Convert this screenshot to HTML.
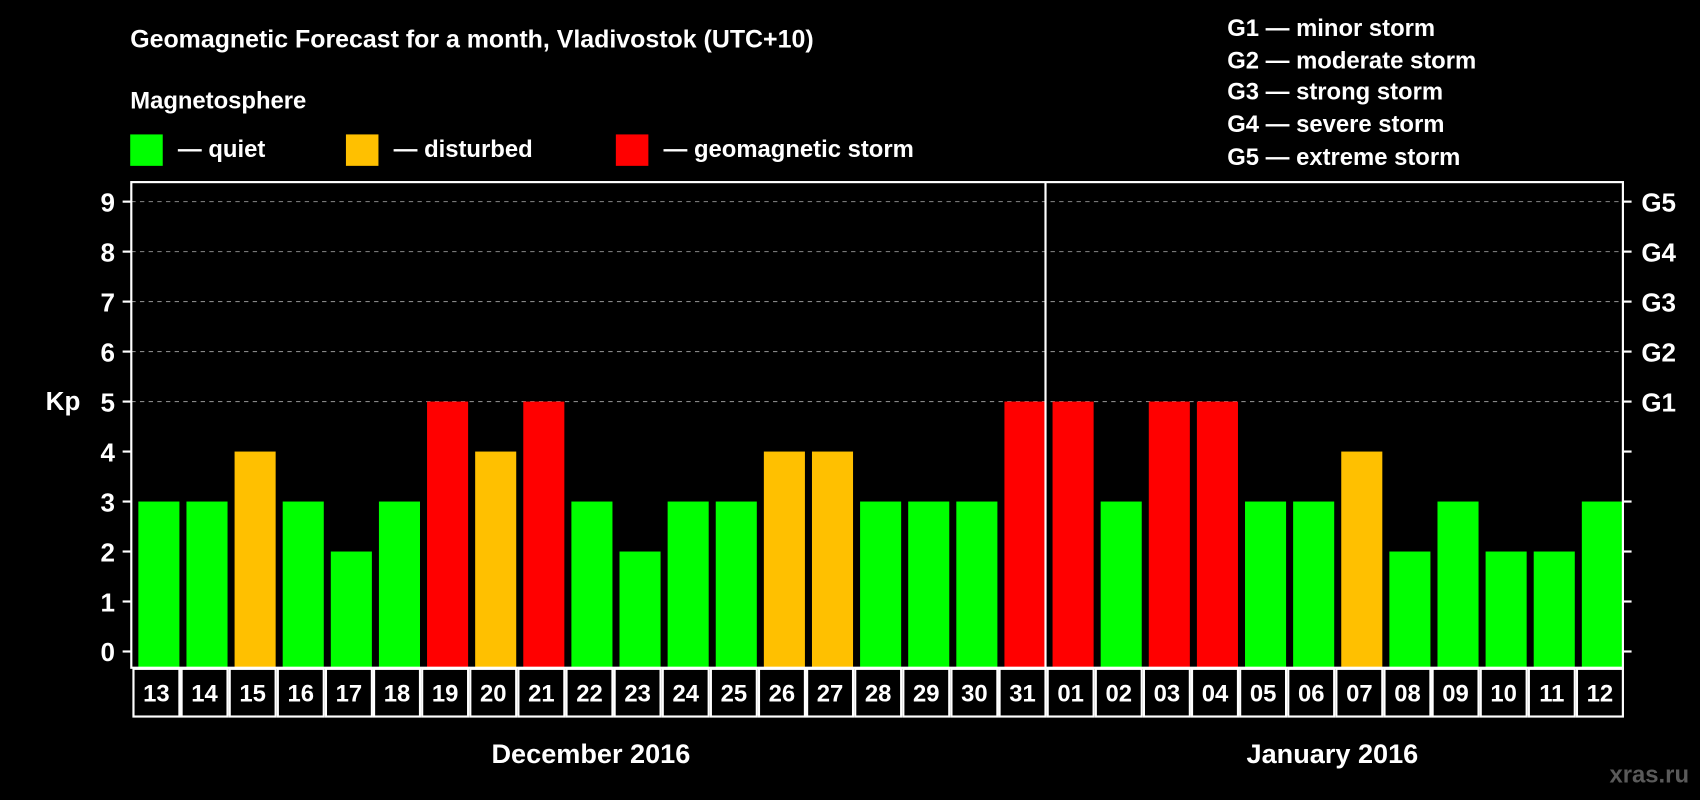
<!DOCTYPE html>
<html><head><meta charset="utf-8"><style>
html,body{margin:0;padding:0;background:#000;width:1700px;height:800px;overflow:hidden}
svg{display:block}
text{font-family:"Liberation Sans",Arial,sans-serif;font-weight:bold;fill:#fff}
</style></head><body>
<svg id="chart" width="1700" height="800" viewBox="0 0 1568 738" xmlns="http://www.w3.org/2000/svg">
<rect width="1568" height="738" fill="#000"/>
<text x="120" y="44" font-size="23">Geomagnetic Forecast for a month, Vladivostok (UTC+10)</text>
<text x="120" y="100" font-size="22">Magnetosphere</text>
<g><rect x="120" y="124" width="30" height="29" fill="#00ff00"/><text x="164" y="145" font-size="22">— quiet</text></g>
<g><rect x="319" y="124" width="30" height="29" fill="#ffc000"/><text x="363" y="145" font-size="22">— disturbed</text></g>
<g><rect x="568" y="124" width="30" height="29" fill="#ff0000"/><text x="612" y="145" font-size="22">— geomagnetic storm</text></g>
<g font-size="22">
<text x="1132" y="33">G1 — minor storm</text>
<text x="1132" y="63">G2 — moderate storm</text>
<text x="1132" y="92">G3 — strong storm</text>
<text x="1132" y="122">G4 — severe storm</text>
<text x="1132" y="152">G5 — extreme storm</text>
</g>
<g id="grid"></g>
<g id="bars"></g>
<rect x="121" y="168" width="1376" height="448" fill="none" stroke="#fff" stroke-width="2"/>
<g id="axes"></g>
<text x="58" y="378" font-size="24" text-anchor="middle">Kp</text>
<text x="545" y="704" font-size="25" text-anchor="middle">December 2016</text>
<text x="1229" y="704" font-size="25" text-anchor="middle">January 2016</text>
<text x="1558" y="722" font-size="22" text-anchor="end" fill="#555" style="fill:#5a5a5a">xras.ru</text>
</svg>
<script>
const days = ["13","14","15","16","17","18","19","20","21","22","23","24","25","26","27","28","29","30","31","01","02","03","04","05","06","07","08","09","10","11","12"];
const kp = [3,3,4,3,2,3,5,4,5,3,2,3,3,4,4,3,3,3,5,5,3,5,5,3,3,4,2,3,2,2,3];
const yTicks = [0,1,2,3,4,5,6,7,8,9];
const gLabels = ["G1","G2","G3","G4","G5"];
const gLevels = [5,6,7,8,9];
const monthBreakIndex = 19;

const NS = "http://www.w3.org/2000/svg";
const X0 = 121, X1 = 1497, BOTTOM = 616;
const slot = (X1 - X0) / days.length;
const y = v => 601 - v * 46.11;
const x = i => X0 + i * slot;
function mk(tag, attrs, parent) {
  const e = document.createElementNS(NS, tag);
  for (const k in attrs) e.setAttribute(k, attrs[k]);
  parent.appendChild(e);
  return e;
}
const grid = document.getElementById('grid');
const bars = document.getElementById('bars');
const axes = document.getElementById('axes');

gLevels.forEach((lv, i) => {
  const l = mk('line', {x1: X0, x2: X1, y1: y(lv), y2: y(lv), stroke: '#888', 'stroke-width': 1, 'stroke-dasharray': '4,4'}, grid);
  
  
  const t = mk('text', {x: 1514, y: y(lv) + 9, 'font-size': 24}, axes);
  t.textContent = gLabels[i];
  
  
});

kp.forEach((v, i) => {
  const col = v >= 5 ? '#ff0000' : (v >= 4 ? '#ffc000' : '#00ff00');
  const r = mk('rect', {x: x(i) + 6.5, y: y(v), width: slot - 6.5, height: BOTTOM - y(v), fill: col}, bars);
  
  
  const c = mk('rect', {x: x(i) + 2, y: 617, width: slot - 2, height: 44, fill: '#000', stroke: '#fff', 'stroke-width': 2}, axes);
  
  
  const t = mk('text', {x: x(i) + slot / 2 + 1, y: 647, 'font-size': 22, 'text-anchor': 'middle'}, axes);
  t.textContent = days[i];
  
  
});

yTicks.forEach(v => {
  const a = mk('line', {x1: 113, x2: 121, y1: y(v), y2: y(v), stroke: '#fff', 'stroke-width': 2}, axes);
  
  
  const b = mk('line', {x1: 1497, x2: 1505, y1: y(v), y2: y(v), stroke: '#fff', 'stroke-width': 2}, axes);
  
  
  const t = mk('text', {x: 106, y: y(v) + 9, 'font-size': 24, 'text-anchor': 'end'}, axes);
  t.textContent = v;
  
  
});

const sep = mk('line', {x1: x(monthBreakIndex), x2: x(monthBreakIndex), y1: 168, y2: 616, stroke: '#fff', 'stroke-width': 2}, axes);


</script>
</body></html>
